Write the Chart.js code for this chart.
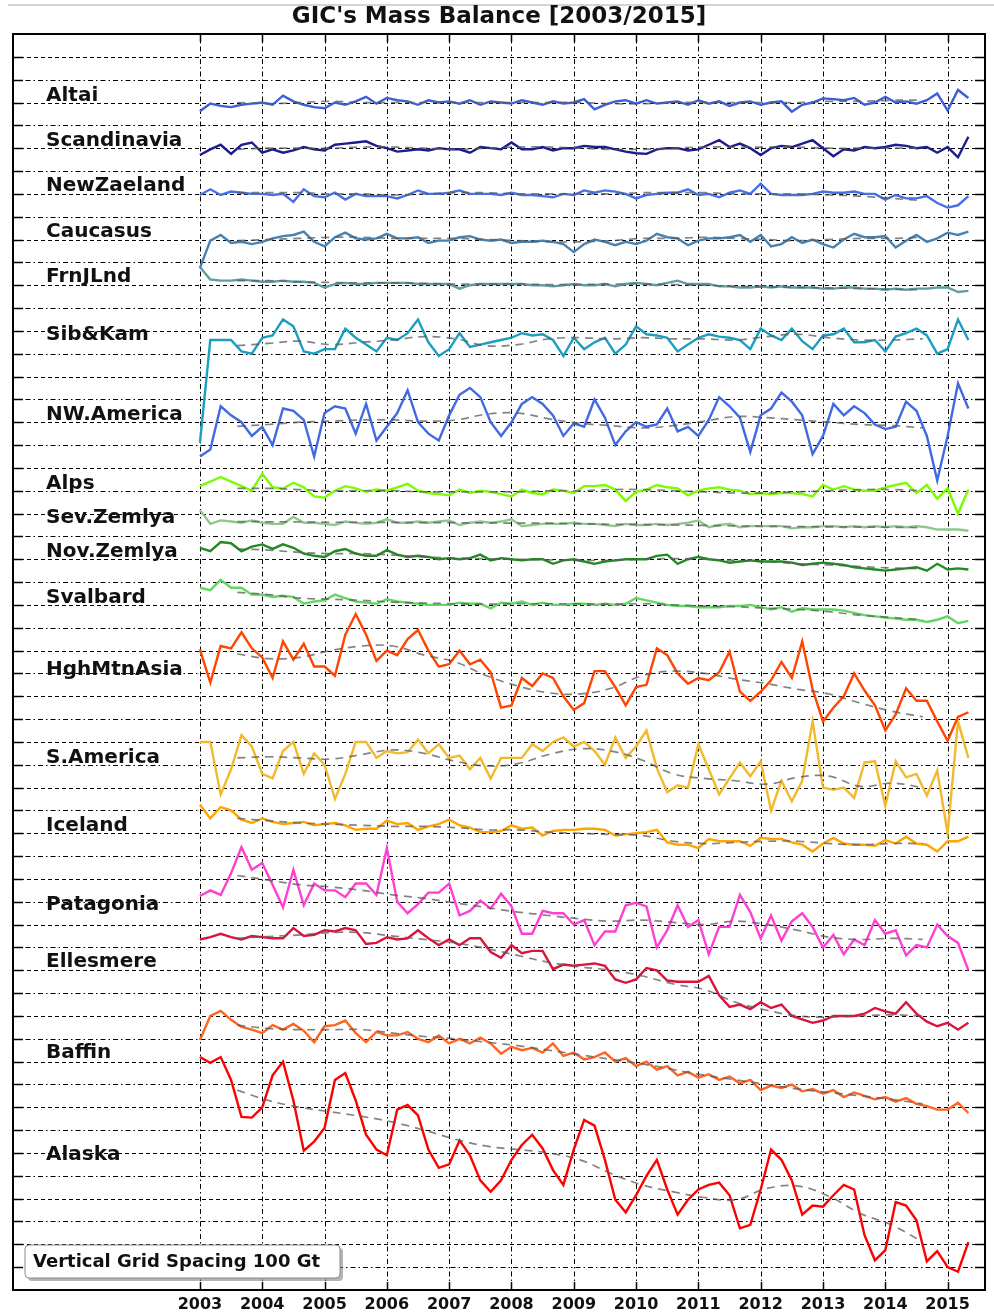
<!DOCTYPE html>
<html>
<head>
<meta charset="utf-8">
<title>GIC's Mass Balance [2003/2015]</title>
<script src="https://cdn.jsdelivr.net/npm/chart.js@4.4.1/dist/chart.umd.min.js"></script>
<style>
  html, body { margin: 0; padding: 0; background: #ffffff; }
  #wrap { width: 994px; height: 1313px; }
  canvas { display: block; }
</style>
</head>
<body>
<div id="wrap"><canvas id="gic" width="994" height="1313"></canvas></div>
<script>
// Time axis: samples every two months from January 2003 (decimal years)
const firstYear = 2003;
const samplesPerYear = 6;
const sampleCount = 75;
const months = Array.from({ length: sampleCount }, (_, i) => firstYear + i / samplesPerYear);

// Smoothed curves are given at half-year nodes
const trendTimes = Array.from({ length: 23 }, (_, k) => 2003.6 + 0.5 * k);

const yearTicks = [2003, 2004, 2005, 2006, 2007, 2008, 2009, 2010, 2011, 2012, 2013, 2014, 2015];

const regionNames = ['Altai', 'Scandinavia', 'NewZaeland', 'Caucasus', 'FrnJLnd', 'Sib&Kam',
  'NW.America', 'Alps', 'Sev.Zemlya', 'Nov.Zemlya', 'Svalbard', 'HghMtnAsia', 'S.America',
  'Iceland', 'Patagonia', 'Ellesmere', 'Baffin', 'Alaska'];

// Baseline (Gt) on which each region's curve is stacked
const regionOffsets = [5200, 5000, 4800, 4600, 4400, 4150, 3800, 3500, 3350, 3200, 3000,
  2700, 2300, 2000, 1700, 1500, 1000, 500];

// Level (Gt) at which each region's name is written
const labelLevels = [5228, 5031, 4834, 4636, 4435, 4181, 3834, 3532, 3383, 3234, 3032,
  2717, 2331, 2033, 1687, 1437, 1039, 592];

const regionColors = ['#3b5fd6', '#1c1c8c', '#4570e6', '#4682b4', '#5f9ea0', '#1c9ec2',
  '#4169e1', '#7cfc00', '#8fc98a', '#228b22', '#62d862', '#ff4500', '#f2b92c',
  '#ffa500', '#ff3fd2', '#dc143c', '#ff6420', '#ff0000'];

// Mass anomalies (Gt) relative to each baseline
const altai = [-38, -5, -15, -20, -10, -5, 0, -10, 30, 5, -10, -20, -25, 0, -10, 5, 25, -5,
  20, 10, 5, -10, 10, 0, 5, -5, 10, -10, 5, 0, -5, 10, 0, -10, 5, -5, 0, 15, -30, -10, 5, 10,
  -5, 10, -5, 0, 5, -10, 10, -5, 5, -15, 0, 5, -10, 0, 5, -40, -10, 0, 18, 15, 10, 20, -10, 0,
  25, 0, 5, -5, 10, 40, -35, 55, 20];
const scandinavia = [-30, -5, 15, -25, 15, 25, -20, -5, -20, -10, 5, -5, -10, 15, 20, 25, 30, 10,
  0, -15, -10, -5, -10, 0, -5, -5, -20, 5, 0, -5, 25, -5, -5, 5, -10, 0, 0, 10, 5, 5, -5, -15,
  -22, -25, -5, 0, 0, -10, -5, 15, 35, 5, 20, 0, -30, 0, 10, 5, 20, 35, 0, -35, -5, -10, 5, 0,
  5, 15, 10, 0, 5, -20, 5, -40, 50];
const newZaeland = [-5, 20, -5, 10, 5, 0, 0, -5, 0, -35, 20, -10, -15, 5, -25, 0, -10, -10,
  -10, -20, -5, 15, 0, 0, 5, 15, 0, 0, 0, -5, 5, -5, -5, -10, -15, 0, -5, 15, 5, 15, 10, 0,
  -20, -5, 0, 5, 5, 20, -5, 0, -15, 5, 15, 0, 45, 0, -5, -5, -5, 0, 10, 5, 5, 10, 0, 0,
  -25, -5, -20, -20, -10, -40, -60, -50, -10];
const caucasus = [-125, -5, 20, -15, -10, -20, -10, 5, 15, 20, 35, -10, -30, 10, 30, 5, 0, 5,
  25, 5, 5, 10, -15, -5, -5, 10, 15, 0, -5, 0, -15, -10, -10, -5, -10, -20, -55, -20, 0, -10, -25, -10,
  -20, -5, 25, 10, 5, -25, -5, 5, 5, 10, 20, -10, 20, -30, -20, 10, -15, 0, -20, -35, 0, 25, 10, 10,
  15, -35, -5, 20, -10, 5, 30, 20, 35];
const frnJLnd = [80, 25, 20, 20, 25, 20, 15, 15, 20, 15, 15, 10, -10, 5, 10, 5, 5, 10,
  10, 10, 10, 5, 5, 5, 5, -15, 0, 5, 5, 5, 5, 5, 0, 0, -5, 0, 5, 0, 0, 5, -5, 5,
  10, 5, 0, 10, 20, 5, 5, 5, -5, -5, -10, -10, -5, -10, -5, -10, -10, -10, -15, -15, -10, -10, -15, -15,
  -20, -15, -20, -15, -15, -10, -10, -30, -25];
const sibKam = [-440, 10, 10, 10, -40, -50, 20, 30, 100, 70, -40, -50, -30, -30, 60, 20, -10, -40,
  20, 10, 40, 100, 0, -60, -30, 40, -20, -10, 0, 10, 20, 40, 30, 35, 10, -60, 20, -30, 0, 20, -50, -10,
  70, 35, 30, 20, -40, -10, 20, 35, 25, 20, 10, -30, 60, 30, 10, 60, 5, -30, 30, 35, 60, 0, 0, 10,
  -40, 25, 40, 60, 30, -50, -30, 100, 10];
const nwAmerica = [-150, -120, 70, 30, 0, -60, -20, -100, 60, 50, 10, -150, 40, 70, 60, -50, 80, -80,
  -20, 40, 140, 0, -50, -80, 30, 120, 150, 110, 0, -60, 0, 80, 110, 80, 30, -60, -5, -20, 100, 20, -100, -40,
  0, -20, -10, 60, -40, -20, -60, 10, 110, 70, 20, -130, 30, 60, 130, 90, 30, -140, -60, 80, 30, 70, 40, -10,
  -30, -20, 90, 50, -60, -255, -60, 170, 60];
const alps = [20, 40, 60, 40, 20, 0, 75, 15, 10, 35, 15, -25, -30, 0, 20, 10, -5, 5,
  0, 15, 30, 0, -10, -15, -20, 5, -10, 0, -5, -15, -25, 5, -10, -15, 5, 0, -10, 20, 20, 25, 5, -45,
  -5, 5, 25, 15, 10, -20, 0, 10, 15, 5, 0, -15, -10, -15, -10, -10, -15, -25, 25, 5, 20, 5, 0, 0,
  15, 25, 35, -10, 25, -35, 10, -100, 5];
const sevZemlya = [65, 5, 20, 15, 10, 20, 10, 5, 5, 35, 10, 10, 5, 0, 15, 10, 5, 10,
  25, 10, 10, 15, 10, 15, 20, 0, 10, 15, 10, 15, 25, -5, 0, 5, 5, 5, 10, 5, 5, 0, -5, 5,
  0, 0, 5, 0, 5, 10, 20, -10, 0, 5, -10, -5, -5, -5, -5, -15, -10, -10, -5, -5, -10, -5, -10, -5,
  -10, -5, -10, -5, -10, -20, -20, -20, -25];
const novZemlya = [50, 35, 75, 70, 35, 55, 65, 45, 65, 50, 25, 15, 10, 35, 45, 25, 15, 15,
  40, 20, 10, 15, 10, 0, 5, 0, 5, 20, -5, 5, 0, -5, 0, 0, -20, -5, 0, -10, -20, -10, -5, 0,
  0, 0, 15, 20, -20, 0, 10, 0, -5, -15, -10, -5, -10, -10, -10, -15, -25, -20, -15, -20, -25, -35, -40, -45,
  -50, -45, -40, -35, -50, -20, -45, -40, -45];
const svalbard = [75, 65, 110, 75, 75, 45, 45, 35, 40, 35, 5, 15, 20, 45, 30, 15, 10, 5,
  25, 15, 10, 5, 0, 0, 0, 10, 5, 5, -15, 10, 5, 15, 0, 10, 0, 0, 5, 5, 0, 5, 0, 5,
  30, 20, 10, 0, -5, -5, -10, -10, -10, -5, -5, 0, -10, -20, -10, -30, -15, -20, -20, -20, -25, -35, -45, -50,
  -55, -60, -65, -65, -75, -65, -50, -80, -70];
const highMtnAsia = [105, -40, 120, 110, 180, 110, 70, -20, 140, 60, 130, 30, 30, -10, 170, 260, 170, 55,
  100, 80, 150, 190, 100, 30, 40, 100, 40, 60, 5, -150, -140, -20, -55, 0, -20, -100, -160, -130, 10, 10, -60, -140,
  -60, -50, 110, 80, 0, -45, -20, -30, 5, 95, -80, -120, -80, -30, 50, -20, 140, -70, -210, -150, -100, 0, -75, -140,
  -250, -180, -65, -120, -120, -210, -295, -190, -170];
const sAmerica = [100, 100, -130, -20, 130, 80, -40, -60, 60, 100, -40, 50, 0, -150, -40, 100, 100, 30,
  60, 50, 55, 110, 50, 90, 30, 40, -20, 30, -60, 30, 30, 30, 90, 60, 100, 120, 80, 100, 60, 0, 120, 30,
  80, 150, -15, -120, -90, -100, 90, -20, -130, -60, 10, -50, 15, -200, -70, -160, -70, 190, -100, -110, -100, -145, 10, 15,
  -180, 15, -55, -40, -135, -25, -300, 190, 30];
const iceland = [125, 65, 115, 100, 60, 45, 65, 50, 40, 45, 50, 35, 40, 45, 35, 15, 20, 20,
  55, 40, 45, 15, 30, 40, 60, 35, 25, 5, 5, 10, 35, 20, 25, -10, 10, 15, 15, 20, 20, 15, -10, -5,
  0, 5, 15, -40, -50, -50, -65, -25, -35, -35, -35, -55, -20, -25, -25, -40, -50, -80, -45, -20, -45, -50, -50, -55,
  -30, -45, -15, -45, -50, -80, -35, -35, -15];
const patagonia = [25, 50, 30, 125, 240, 140, 170, 75, -25, 140, -15, 80, 50, 50, 20, 80, 80, 30,
  235, 0, -50, -10, 40, 40, 80, -60, -40, 5, -30, 35, -20, -140, -140, -40, -50, -50, -100, -80, -190, -130, -130, -15,
  -5, -20, -200, -125, -15, -110, -80, -230, -110, -110, 30, -45, -160, -60, -170, -85, -50, -110, -200, -145, -230, -165, -190, -80,
  -140, -125, -235, -190, -200, -100, -150, -180, -300];
const ellesmere = [35, 45, 60, 45, 35, 50, 45, 40, 40, 85, 50, 55, 75, 70, 85, 75, 15, 20,
  45, 35, 40, 75, 40, 10, 35, 10, 40, 40, -20, -45, 10, -25, -15, -15, -95, -75, -80, -75, -70, -80, -140, -155,
  -140, -90, -100, -145, -150, -150, -150, -125, -210, -260, -250, -270, -240, -265, -250, -300, -315, -330, -320, -300, -300, -300, -290, -265,
  -280, -290, -240, -290, -325, -345, -330, -360, -330];
const baffin = [95, 200, 222, 183, 152, 140, 125, 160, 140, 165, 135, 85, 155, 160, 180, 125, 85, 130,
  115, 115, 130, 100, 85, 115, 80, 100, 80, 105, 80, 35, 65, 50, 60, 40, 80, 25, 40, 10, 20, 40, 0, 15,
  -20, 0, -35, -20, -60, -45, -70, -55, -80, -65, -95, -80, -125, -105, -115, -100, -130, -120, -140, -125, -155, -135, -150, -165,
  -155, -175, -160, -185, -195, -210, -210, -180, -225];
const alaska = [520, 495, 520, 420, 258, 255, 300, 440, 500, 330, 110, 150, 210, 420, 450, 330, 180, 115,
  90, 290, 310, 265, 115, 35, 50, 155, 90, -20, -70, -20, 70, 135, 180, 120, 25, -40, 115, 245, 220, 70, -105, -160,
  -85, 0, 70, -60, -170, -105, -60, -40, -30, -85, -230, -215, -60, 115, 70, -20, -170, -130, -135, -85, -40, -60, -260, -370,
  -325, -115, -130, -195, -375, -330, -400, -420, -290];

// Smoothed curves (Gt) relative to each baseline, at the half-year nodes
const altaiTrend = [0, -5, 0, 5, 0, 0, 0, 0, 0, 0, 0, 0, -5, -5, 0, 0, 0, 0, 0, 5, 5, 10, 10];
const scandinaviaTrend = [-5, 0, 0, 0, 5, 5, 0, -5, 0, 5, 5, 0, -5, -5, 0, 5, 5, 5, 5, 0, 0, 0, 0];
const newZaelandTrend = [5, 5, 5, 0, 0, -5, 0, 5, 5, 0, 0, 0, 0, 5, 5, 5, 0, 0, 0, -5, -10, -20, -30];
const caucasusTrend = [-5, 0, 5, 10, 10, 5, 5, 5, 0, -5, -10, -10, -5, 5, 5, 10, 5, 0, -5, 0, 5, 5, 10];
const frnJLndTrend = [20, 20, 15, 12, 10, 10, 8, 5, 5, 5, 3, 3, 5, 5, 3, 0, -5, -8, -10, -12, -15, -18, -20];
const sibKamTrend = [-15, -5, 5, -10, 0, 10, 25, 15, -15, -10, 15, 20, 15, 20, 15, 15, 10, 25, 35, 20, 10, 10, 15];
const nwAmericaTrend = [-18, -10, 0, 5, 10, 10, 5, 10, 35, 40, 15, -5, -15, -25, -15, 5, 25, 20, 10, 0, -10, -15, -25];
const alpsTrend = [10, 10, 5, 0, 0, 0, -5, -5, -5, -5, 0, 0, 5, 5, 0, -5, -10, -10, -5, 0, 5, 5, 0];
const sevZemlyaTrend = [15, 14, 13, 12, 12, 11, 10, 10, 9, 8, 8, 5, 3, 2, 0, -2, -4, -6, -7, -8, -9, -10, -12];
const novZemlyaTrend = [45, 40, 30, 25, 25, 18, 10, 5, 2, 0, -3, -5, -5, 0, 3, 0, -5, -10, -20, -25, -32, -38, -42];
const svalbardTrend = [55, 45, 30, 25, 20, 12, 8, 5, 3, 5, 5, 5, 3, 5, 0, -5, -8, -15, -20, -30, -45, -55, -65];
const highMtnAsiaTrend = [85, 65, 70, 100, 120, 120, 80, 50, -10, -55, -85, -90, -65, -10, 10, 0, -25, -45, -70, -90, -130, -165, -190];
const sAmericaTrend = [30, 35, 30, 25, 45, 65, 50, 15, -5, 5, 45, 70, 60, 20, -40, -60, -70, -85, -55, -50, -95, -80, -100];
const icelandTrend = [65, 55, 45, 40, 35, 30, 30, 25, 15, 15, 5, 0, -5, -10, -35, -45, -40, -35, -35, -45, -50, -45, -45];
const patagoniaTrend = [115, 95, 75, 65, 50, 30, 15, -5, -25, -45, -60, -75, -85, -80, -90, -100, -85, -100, -125, -155, -165, -160, -165];
const ellesmereTrend = [40, 48, 55, 65, 65, 50, 35, 20, -5, -35, -65, -85, -100, -125, -160, -185, -240, -275, -300, -305, -300, -295, -300];
const baffinTrend = [160, 145, 140, 140, 140, 125, 110, 100, 85, 70, 50, 30, 10, -10, -35, -60, -80, -100, -120, -135, -150, -165, -185];
const alaskaTrend = [375, 330, 300, 280, 260, 235, 200, 160, 130, 115, 100, 70, 10, -40, -70, -95, -105, -55, -45, -90, -165, -215, -290];

const regionSeries = [altai, scandinavia, newZaeland, caucasus, frnJLnd, sibKam, nwAmerica, alps,
  sevZemlya, novZemlya, svalbard, highMtnAsia, sAmerica, iceland, patagonia, ellesmere, baffin, alaska];
const regionTrends = [altaiTrend, scandinaviaTrend, newZaelandTrend, caucasusTrend, frnJLndTrend,
  sibKamTrend, nwAmericaTrend, alpsTrend, sevZemlyaTrend, novZemlyaTrend, svalbardTrend,
  highMtnAsiaTrend, sAmericaTrend, icelandTrend, patagoniaTrend, ellesmereTrend, baffinTrend, alaskaTrend];

const gridStep = 100;          // Gt between horizontal grid lines
const labelYear = 2000.53;     // where region names start on the time axis
const FONT = '"DejaVu Sans", "Liberation Sans", sans-serif';

const datasets = [];
regionSeries.forEach((vals, r) => {
  datasets.push({
    label: regionNames[r],
    data: vals.map((v, i) => ({ x: months[i], y: regionOffsets[r] + v })),
    borderColor: regionColors[r],
    borderWidth: 2.4,
    pointRadius: 0,
    tension: 0,
    fill: false,
    order: 2
  });
});
regionTrends.forEach((vals, r) => {
  datasets.push({
    label: regionNames[r] + ' trend',
    data: vals.map((v, k) => ({ x: trendTimes[k], y: regionOffsets[r] + v })),
    borderColor: 'rgba(90,90,90,0.75)',
    borderWidth: 1.7,
    borderDash: [8, 6],
    pointRadius: 0,
    tension: 0.4,
    fill: false,
    order: 1
  });
});

// Page decoration, dashed grid, inward ticks, frame, region names and the grid-spacing note
const gicDecor = {
  id: 'gicDecor',
  beforeDraw(chart) {
    const { ctx, width } = chart;
    ctx.save();
    ctx.strokeStyle = '#d4d4d4';
    ctx.lineWidth = 2;
    ctx.beginPath();
    ctx.moveTo(8, 5);
    ctx.lineTo(width, 5);
    ctx.stroke();
    ctx.restore();
  },
  beforeDatasetsDraw(chart) {
    const { ctx, chartArea: a, scales: { x, y } } = chart;
    ctx.save();
    ctx.beginPath();
    ctx.rect(a.left, a.top, a.right - a.left, a.bottom - a.top);
    ctx.clip();
    ctx.strokeStyle = '#000';
    ctx.lineWidth = 1;
    for (let v = gridStep; v < y.max; v += gridStep) {
      const py = Math.round(y.getPixelForValue(v)) + 0.5;
      ctx.setLineDash(Math.round(v / gridStep) % 2 === 0 ? [4, 3] : [5, 3, 1.5, 3]);
      ctx.beginPath();
      ctx.moveTo(a.left, py);
      ctx.lineTo(a.right, py);
      ctx.stroke();
    }
    ctx.setLineDash([5, 3, 1.5, 3]);
    yearTicks.forEach(t => {
      const px = Math.round(x.getPixelForValue(t)) + 0.5;
      ctx.beginPath();
      ctx.moveTo(px, a.top);
      ctx.lineTo(px, a.bottom);
      ctx.stroke();
    });
    ctx.restore();
  },
  afterDatasetsDraw(chart) {
    const { ctx, chartArea: a, scales: { x, y } } = chart;
    ctx.save();
    // inward tick marks
    ctx.strokeStyle = '#000';
    ctx.lineWidth = 1.5;
    ctx.setLineDash([]);
    ctx.beginPath();
    for (let v = gridStep; v < y.max; v += gridStep) {
      const py = Math.round(y.getPixelForValue(v)) + 0.5;
      ctx.moveTo(a.left, py); ctx.lineTo(a.left + 10, py);
      ctx.moveTo(a.right - 10, py); ctx.lineTo(a.right, py);
    }
    yearTicks.forEach(t => {
      const px = Math.round(x.getPixelForValue(t)) + 0.5;
      ctx.moveTo(px, a.bottom); ctx.lineTo(px, a.bottom - 8);
      ctx.moveTo(px, a.top); ctx.lineTo(px, a.top + 8);
    });
    ctx.stroke();
    // frame
    ctx.lineWidth = 2;
    ctx.strokeRect(a.left, a.top, a.right - a.left, a.bottom - a.top);
    // region names
    ctx.fillStyle = '#111';
    ctx.font = 'bold 20px ' + FONT;
    ctx.textAlign = 'left';
    ctx.textBaseline = 'middle';
    regionNames.forEach((name, r) => {
      ctx.fillText(name, x.getPixelForValue(labelYear), y.getPixelForValue(labelLevels[r]));
    });
    // grid-spacing note
    const bx = a.left + 12, bw = 315, bh = 33, by = a.bottom - 45;
    ctx.fillStyle = 'rgba(120,120,120,0.55)';
    ctx.beginPath();
    ctx.roundRect(bx + 3, by + 3, bw, bh, 4);
    ctx.fill();
    ctx.fillStyle = '#fff';
    ctx.strokeStyle = '#8a8a8a';
    ctx.lineWidth = 1;
    ctx.beginPath();
    ctx.roundRect(bx, by, bw, bh, 4);
    ctx.fill();
    ctx.stroke();
    ctx.fillStyle = '#111';
    ctx.font = 'bold 18px ' + FONT;
    ctx.fillText('Vertical Grid Spacing ' + gridStep + ' Gt', bx + 8, by + bh / 2 + 1);
    ctx.restore();
  }
};

new Chart(document.getElementById('gic'), {
  type: 'line',
  data: { datasets },
  plugins: [gicDecor],
  options: {
    responsive: false,
    animation: false,
    devicePixelRatio: 1,
    layout: { padding: { left: 13, right: 9, top: 0, bottom: 0 } },
    plugins: {
      legend: { display: false },
      tooltip: { enabled: false },
      title: {
        display: true,
        text: "GIC's Mass Balance [2003/2015]",
        color: '#111',
        font: { family: FONT, weight: 'bold', size: 23, lineHeight: 1 },
        padding: { top: 6, bottom: 5 }
      }
    },
    scales: {
      x: {
        type: 'linear',
        min: 2000,
        max: 2015.6,
        afterBuildTicks: s => { s.ticks = yearTicks.map(v => ({ value: v })); },
        afterFit: s => { s.height = 23; },
        grid: { display: false, drawTicks: false },
        border: { display: false },
        ticks: {
          autoSkip: false,
          maxRotation: 0,
          padding: 5,
          color: '#111',
          font: { family: FONT, weight: 'bold', size: 16 },
          callback: v => String(v)
        }
      },
      y: {
        type: 'linear',
        min: 0,
        max: 5500,
        display: false
      }
    }
  }
});
</script>
</body>
</html>
